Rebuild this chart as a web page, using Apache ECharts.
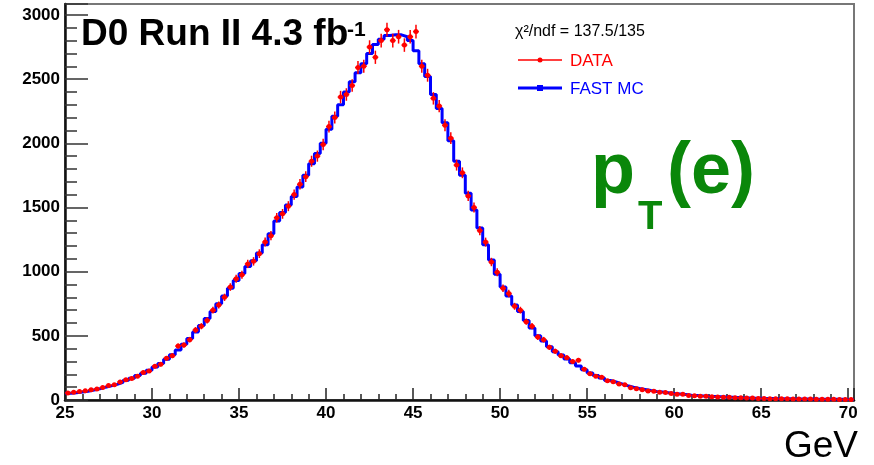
<!DOCTYPE html>
<html>
<head>
<meta charset="utf-8">
<script src="https://cdn.jsdelivr.net/npm/echarts@6/dist/echarts.min.js"></script>
<style>html,body{margin:0;padding:0;background:#fff}#c{width:874px;height:465px}</style>
</head>
<body>
<div id="c"></div>
<script>
// ---- data ----
const binStart = 25;           // GeV, first bin low edge
const binWidth = 1 / 3;        // GeV
const xMax = 25 + 136 / 3;     // upper edge of last bin
const yMax = 3085;
const xMajorTicks = [25, 30, 35, 40, 45, 50, 55, 60, 65, 70];
const yMajorTicks = [0, 500, 1000, 1500, 2000, 2500, 3000];

const fastMC = [
  52, 57, 62, 68, 78, 88, 100, 110, 122, 137, 153, 170, 190, 208, 232, 258, 285, 318, 352, 390,
  435, 480, 530, 580, 635, 690, 750, 810, 870, 930, 985, 1040, 1085, 1145, 1210, 1295, 1395, 1460, 1520, 1585,
  1660, 1750, 1840, 1920, 2000, 2110, 2210, 2300, 2400, 2480, 2550, 2620, 2700, 2770, 2810, 2840, 2845, 2845, 2830, 2800,
  2720, 2620, 2520, 2380, 2270, 2160, 2020, 1860, 1750, 1610, 1480, 1340, 1210, 1090, 980, 880, 810, 740, 690, 620,
  560, 500, 460, 415, 375, 350, 320, 290, 265, 235, 210, 190, 172, 152, 140, 126, 112, 100, 90, 82,
  74, 67, 62, 57, 51, 47, 43, 38, 35, 32, 29, 27, 25, 23, 21, 19, 17, 16, 14, 13,
  12, 11, 10, 10, 9, 8, 8, 7, 7, 6, 6, 5, 5, 5, 4, 4
];
const dataCounts = [
  55, 60, 66, 72, 80, 86, 98, 112, 118, 140, 158, 168, 185, 215, 225, 262, 278, 325, 345, 420,
  428, 470, 545, 575, 620, 700, 740, 800, 880, 945, 975, 1060, 1080, 1140, 1230, 1280, 1420, 1450, 1510, 1600,
  1680, 1740, 1860, 1900, 1990, 2130, 2200, 2360, 2380, 2450, 2590, 2600, 2750, 2670, 2800, 2885, 2800, 2830, 2765, 2830,
  2870, 2600, 2530, 2350, 2290, 2140, 2040, 1830, 1770, 1590, 1500, 1320, 1230, 1075, 995, 870, 830, 730, 700, 610,
  575, 490, 470, 410, 380, 345, 330, 300, 310, 240, 205, 185, 178, 150, 142, 124, 118, 96, 88, 80,
  70, 68, 60, 58, 50, 45, 44, 36, 34, 30, 30, 26, 24, 22, 22, 18, 17, 15, 16, 12,
  12, 10, 10, 9, 9, 8, 7, 7, 7, 6, 5, 5, 5, 4, 4, 4
];

// ---- build series data ----
const edges = fastMC.map((_, i) => binStart + i * binWidth);
const mcLine = fastMC.map((v, i) => [edges[i], v]);
mcLine.push([xMax, fastMC[fastMC.length - 1]]);
const dataPts = dataCounts.map((v, i) => [edges[i] + binWidth / 2, v, Math.sqrt(v)]);

const FONT = '"Liberation Sans", Arial, Helvetica, sans-serif';
const chart = echarts.init(document.getElementById('c'), null, { renderer: 'canvas' });

chart.setOption({
  animation: false,
  backgroundColor: '#fff',
  grid: { left: 65, right: 20, top: 4, bottom: 65, show: true, borderColor: '#777', borderWidth: 2, backgroundColor: 'transparent' },
  xAxis: [
    { type: 'value', position: 'bottom', min: binStart, max: xMax, interval: 1,
      axisLine: { show: true, onZero: false, lineStyle: { color: '#111', width: 2.5 } },
      axisTick: { show: true, inside: true, length: 6, lineStyle: { color: '#222', width: 1.5 } },
      axisLabel: { show: false }, splitLine: { show: false } },
    { type: 'value', position: 'bottom', min: binStart, max: xMax, interval: 5,
      axisLine: { show: false, onZero: false },
      axisTick: { show: true, inside: true, length: 12, lineStyle: { color: '#222', width: 1.5 } },
      axisLabel: { show: true, margin: 5, color: '#000', fontSize: 17, fontWeight: 'bold', fontFamily: FONT,
        formatter: v => (xMajorTicks.indexOf(v) >= 0 ? String(v) : '') },
      splitLine: { show: false } }
  ],
  yAxis: [
    { type: 'value', position: 'left', min: 0, max: yMax, interval: 100,
      axisLine: { show: true, onZero: false, lineStyle: { color: '#111', width: 2.5 } },
      axisTick: { show: true, inside: true, length: 12, lineStyle: { color: '#333', width: 1.5 } },
      axisLabel: { show: false }, splitLine: { show: false } },
    { type: 'value', position: 'left', min: 0, max: yMax, interval: 500,
      axisLine: { show: false, onZero: false },
      axisTick: { show: true, inside: true, length: 23, lineStyle: { color: '#333', width: 1.5 } },
      axisLabel: { show: true, margin: 5, color: '#000', fontSize: 17, fontWeight: 'bold', fontFamily: FONT,
        formatter: v => (yMajorTicks.indexOf(v) >= 0 ? String(v) : '') },
      splitLine: { show: false } }
  ],
  series: [
    { name: 'FAST MC', type: 'line', step: 'end', data: mcLine, xAxisIndex: 0, yAxisIndex: 0,
      symbol: 'none', lineStyle: { color: '#0000ff', width: 3 }, z: 3 },
    { name: 'DATA', type: 'custom', xAxisIndex: 0, yAxisIndex: 0, data: dataPts, z: 4,
      renderItem: function (params, api) {
        const x = api.value(0), y = api.value(1), e = api.value(2);
        const c = api.coord([x, y]);
        const lo = api.coord([x, Math.max(0, y - e)]);
        const hi = api.coord([x, y + e]);
        const l = api.coord([x - binWidth / 2, y]);
        const r = api.coord([x + binWidth / 2, y]);
        const st = { stroke: '#ff0000', lineWidth: 1.5 };
        return { type: 'group', children: [
          { type: 'line', shape: { x1: c[0], y1: lo[1], x2: c[0], y2: hi[1] }, style: st },
          { type: 'line', shape: { x1: l[0], y1: c[1], x2: r[0], y2: c[1] }, style: st },
          { type: 'circle', shape: { cx: c[0], cy: c[1], r: 2.5 }, style: { fill: '#ff0000' } }
        ] };
      } }
  ],
  graphic: [
    { type: 'text', x: 81, y: 35, style: { text: 'D0 Run II 4.3 fb', font: 'bold 37px ' + FONT, fill: '#000', textVerticalAlign: 'middle' } },
    { type: 'text', x: 347, y: 30, style: { text: '-1', font: 'bold 21px ' + FONT, fill: '#000', textVerticalAlign: 'middle' } },
    { type: 'text', x: 515, y: 32, style: { text: 'χ²/ndf = 137.5/135', font: '16px ' + FONT, fill: '#000', textVerticalAlign: 'middle' } },
    { type: 'line', shape: { x1: 518, y1: 60, x2: 562, y2: 60 }, style: { stroke: '#ff0000', lineWidth: 1.5 } },
    { type: 'circle', shape: { cx: 540, cy: 60, r: 2.5 }, style: { fill: '#ff0000' } },
    { type: 'text', x: 570, y: 61, style: { text: 'DATA', font: '17px ' + FONT, fill: '#ff0000', textVerticalAlign: 'middle' } },
    { type: 'line', shape: { x1: 518, y1: 88, x2: 562, y2: 88 }, style: { stroke: '#0000ff', lineWidth: 3 } },
    { type: 'rect', shape: { x: 537, y: 85, width: 6, height: 6 }, style: { fill: '#0000ff' } },
    { type: 'text', x: 570, y: 89, style: { text: 'FAST MC', font: '17px ' + FONT, fill: '#0000ff', textVerticalAlign: 'middle' } },
    { type: 'text', x: 591, y: 173, style: { text: 'p', font: 'bold 72px ' + FONT, fill: '#0a870a', textVerticalAlign: 'middle' } },
    { type: 'text', x: 638, y: 218, style: { text: 'T', font: 'bold 40px ' + FONT, fill: '#0a870a', textVerticalAlign: 'middle' } },
    { type: 'text', x: 667, y: 173, style: { text: '(e)', font: 'bold 72px ' + FONT, fill: '#0a870a', textVerticalAlign: 'middle' } },
    { type: 'text', x: 858, y: 447, style: { text: 'GeV', font: '37px ' + FONT, fill: '#000', textAlign: 'right', textVerticalAlign: 'middle' } }
  ]
});
</script>
</body>
</html>
